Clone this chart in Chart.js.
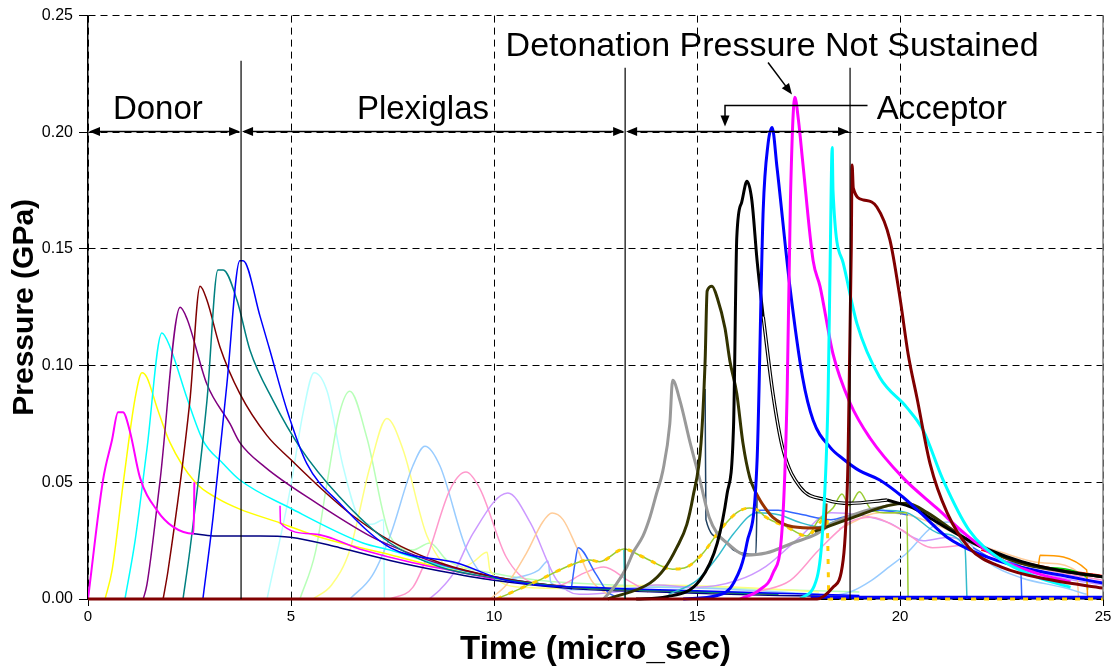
<!DOCTYPE html>
<html>
<head>
<meta charset="utf-8">
<script src="https://cdn.jsdelivr.net/npm/chart.js@4.4.1/dist/chart.umd.min.js"></script>
<style>
  html, body { margin: 0; padding: 0; background: #fff; }
  #wrap { width: 1115px; height: 670px; }
</style>
</head>
<body>
<div id="wrap"><canvas id="chart"></canvas></div>
<script>
// ── Gauge records: [time (micro_sec), pressure (GPa)] ──

// donor gauges
const donor1 = [[0,0],[0.37,0.051],[0.59,0.068],[0.74,0.080],[0.86,0.080],[1.03,0.072],[1.28,0.052],[1.70,0.038],[2.09,0.031],[2.60,0.028],[2.62,0.050]];
const donor1Tail = [[2.60,0.028],[3.08,0.027],[4.24,0.027],[4.98,0.0265],[6.2,0.022],[7.44,0.0165],[8.67,0.012],[10,0.008],[11.9,0.0045],[13.1,0.0035],[15,0.0025],[17,0.0015],[19,0.001]];
const donor2 = [[0.42,0],[0.59,0.012],[0.87,0.050],[1.16,0.086],[1.33,0.097],[1.45,0.095],[1.70,0.082],[2.02,0.067],[2.64,0.050],[3.2,0.043],[3.74,0.0385],[4.73,0.0326],[5.8,0.026],[7.44,0.019],[8.67,0.0135],[10,0.009],[11.9,0.005],[13.1,0.004],[15,0.003],[17,0.002]];
const donor2Step = [[4.73,0.040],[4.74,0.0326],[5.5,0.028],[6.77,0.021],[8,0.0155],[9,0.012],[10,0.0085]];
const donor3 = [[0.91,0],[1.16,0.025],[1.45,0.064],[1.82,0.114],[2.02,0.108],[2.44,0.086],[2.83,0.068],[3.33,0.058],[3.74,0.051],[4.98,0.039],[6.77,0.024],[7.44,0.021],[8.67,0.0145],[10,0.0095],[11.9,0.005],[13.1,0.004],[15,0.003],[17,0.002]];
const donor4 = [[1.36,0],[1.45,0.006],[1.77,0.050],[2.27,0.125],[2.44,0.120],[2.93,0.092],[3.5,0.075],[3.74,0.067],[4.36,0.0565],[5.64,0.041],[7.0,0.0265],[7.44,0.023],[8.67,0.015],[10,0.0095],[11.9,0.005],[13.1,0.004],[15,0.003],[17,0.002]];
const donor5 = [[1.85,0],[1.97,0.012],[2.51,0.085],[2.76,0.134],[2.93,0.128],[3.25,0.108],[3.74,0.088],[4.41,0.070],[4.98,0.060],[5.89,0.045],[6.5,0.036],[7.44,0.025],[8.67,0.0155],[10,0.0095],[11.9,0.005],[13.1,0.004],[15,0.003],[17,0.002]];
const donor6 = [[2.34,0],[2.51,0.021],[2.93,0.085],[3.2,0.141],[3.33,0.141],[3.67,0.128],[3.99,0.1066],[4.56,0.085],[5.22,0.065],[6.2,0.0437],[7.44,0.024],[8.67,0.0137],[10,0.009],[11.9,0.005],[13.1,0.004],[15,0.003],[17,0.002]];
const donor7 = [[2.83,0],[3.08,0.035],[3.42,0.092],[3.74,0.145],[3.82,0.145],[4.24,0.121],[4.48,0.1066],[4.9,0.081],[5.39,0.058],[6.2,0.041],[7.44,0.022],[9.09,0.0154],[10.3,0.008],[12.8,0.0047],[15,0.0035],[17,0.0025],[19,0.0015]];

// plexiglas gauges
const plexi1 = [[4.41,0],[4.98,0.047],[5.3,0.080],[5.57,0.097],[5.89,0.089],[6.28,0.057],[6.7,0.034],[7.0,0.032],[7.28,0.034],[7.3,0]];
const plexi2 = [[5.22,0],[5.6,0.020],[5.89,0.050],[6.2,0.080],[6.45,0.089],[6.87,0.069],[7.44,0.027],[8.0,0.021],[8.42,0.024],[8.84,0.0167],[10,0.011],[11.1,0.008],[13,0.006],[15,0.005],[17,0.004],[19,0.003]];
const plexi3 = [[5.54,0],[6.0,0.006],[6.45,0.021],[6.95,0.057],[7.36,0.0774],[7.76,0.064],[8.35,0.027],[9.09,0.0124],[9.5,0.016],[9.83,0.020],[9.9,0.0124],[10.7,0.005],[12,0.0045],[14,0.006],[16,0.005],[18,0.003]];
const plexi4 = [[6.45,0],[7.0,0.010],[7.44,0.027],[8.0,0.057],[8.3,0.0655],[8.67,0.057],[9.33,0.021],[9.98,0.008],[10.5,0.009],[11.1,0.0124],[11.33,0.0163],[11.4,0.007],[12,0.004],[14,0.005],[16,0.004],[18,0.002]];
const plexi5 = [[7.44,0],[8.0,0.005],[8.35,0.018],[8.92,0.047],[9.31,0.0544],[9.66,0.047],[10.3,0.018],[10.96,0.007],[11.6,0.006],[12.2,0.011],[12.7,0.0137],[13.3,0.008],[13.8,0.003]];
const plexi6 = [[8.4,0],[8.67,0.004],[9.0,0.011],[9.48,0.028],[10.34,0.0454],[10.9,0.0325],[11.55,0.008],[12.1,0.002],[13.0,0.003],[14.0,0.006],[15,0.005],[16.0,0.008],[16.7,0.014],[17.5,0.026],[18.3,0.037],[19.0,0.036],[19.75,0.0325],[20.57,0.025],[21.2,0.0265],[22,0.022],[23,0.014],[24,0.009],[25,0.006]];
const plexi7 = [[9.9,0],[10.3,0.006],[10.8,0.0197],[11.2,0.033],[11.43,0.0368],[11.7,0.034],[12.04,0.022],[12.4,0.008],[12.8,0.002]];
const plexi8 = [[11.9,0.004],[12.0,0.016],[12.07,0.022],[12.5,0.011],[12.8,0.003],[13.0,0.001]];
const plexi9 = [[10.07,0],[11.1,0.008],[11.9,0.0146],[12.36,0.0167],[12.6,0.016],[13.2,0.0214],[13.67,0.018],[14.4,0.0128],[14.75,0.0137],[15.15,0.0197],[15.5,0.028],[15.98,0.037],[16.3,0.039],[16.5,0.038],[16.7,0.035],[17.2,0.031],[17.7,0.027],[18.0,0.034],[18.35,0.039],[18.57,0.045],[18.75,0.040],[19.0,0.046],[19.26,0.039],[19.6,0.037],[20.17,0.037],[20.2,0]];
const plexi9Gold = [[10.07,0],[11.1,0.008],[11.9,0.0146],[12.36,0.0167],[12.6,0.016],[13.2,0.0214],[13.67,0.018],[14.4,0.0128],[14.75,0.0137],[15.15,0.0197],[15.5,0.028],[15.98,0.037],[16.3,0.039],[16.5,0.038],[16.7,0.035],[17.2,0.031],[17.7,0.027],[18.2,0.035],[18.22,0.025],[18.25,0],[25,0]];
const plexi10 = [[13.2,0.021],[13.22,0]];

// acceptor gauges
const accGrey = [[12.7,0],[13.0,0.006],[13.27,0.0137],[13.42,0.0197],[13.67,0.027],[13.84,0.035],[14.0,0.045],[14.16,0.055],[14.33,0.075],[14.4,0.0937],[14.58,0.085],[14.83,0.067],[15.07,0.051],[15.3,0.035],[15.5,0.028],[15.74,0.024],[16.2,0.0188],[16.7,0.0197],[17.36,0.024],[17.96,0.028],[18.35,0.0325],[19,0.037],[19.7,0.040]];
const accOlive = [[12.8,0],[13.84,0.0068],[14.2,0.013],[14.5,0.022],[14.75,0.032],[14.9,0.0437],[15.1,0.067],[15.2,0.102],[15.25,0.132],[15.37,0.134],[15.5,0.129],[15.69,0.116],[15.81,0.102],[15.98,0.088],[16.13,0.067],[16.3,0.052],[16.45,0.0455]];
const accBrown = [[16.45,0.0455],[16.6,0.041],[16.87,0.035],[17.36,0.031],[17.96,0.0304],[18.15,0.031],[18.18,0.041]];
const accOlive2 = [[17.9,0.029],[18.85,0.035],[19.7,0.040],[20.17,0.041],[20.67,0.037],[21.3,0.0295],[21.8,0.024],[22.96,0.0154],[24,0.012],[25,0.0094]];
const accSlate = [[15.2,0.090],[15.22,0.034],[15.55,0.0265],[15.9,0.021],[16.45,0.019],[16.48,0.044]];
const accTeal = [[14.3,0.002],[15.0,0.008],[15.5,0.018],[15.9,0.028],[16.48,0.037],[17.04,0.036],[17.5,0.033],[18,0.031],[18.5,0.034],[19.5,0.038],[20.17,0.037],[21,0.028],[21.6,0.022],[21.65,0]];
const accSteel = [[16.5,0.038],[17.0,0.038],[17.5,0.0365],[18.3,0.034],[18.8,0.036],[19.5,0.038],[20.2,0.036]];
const accPink = [[16.5,0.003],[17.3,0.008],[18.0,0.021],[18.77,0.033],[19.3,0.035],[20.0,0.030],[20.8,0.022],[21.5,0.023],[21.8,0.024],[22.5,0.019],[23.5,0.013],[25,0.008]];
const accLightBlue = [[18.0,0.0005],[18.77,0.003],[19.3,0.008],[19.75,0.014],[20.17,0.0197],[20.8,0.031],[21.2,0.033],[21.6,0.026],[22.2,0.0154],[23,0.009],[24,0.005],[24.6,0.002]];
const accPeach = [[18.5,0.030],[19.5,0.037],[20.2,0.036],[21,0.031],[21.7,0.025],[22.5,0.020],[23.5,0.0155],[24.35,0.012],[24.4,0]];
const accBlueThin = [[21.8,0.022],[22.5,0.016],[22.97,0.014],[23.0,0]];
const accOrange = [[21.8,0.024],[22.5,0.018],[23.4,0.0137],[23.45,0.0188],[24.6,0.0124],[24.62,0]];
const accGreen = [[22.5,0.018],[23.5,0.0135],[24.6,0.0094],[24.62,0.004]];
const accRed = [[22,0.021],[23,0.016],[24,0.0125],[25,0.010]];
const accBlack = [[13.5,0],[14.26,0.001],[15.07,0.008],[15.5,0.024],[15.74,0.045],[15.9,0.074],[15.98,0.155],[16.1,0.170],[16.23,0.179],[16.35,0.171],[16.48,0.145],[16.63,0.121]];
const accBlackOpen = [[16.63,0.121],[16.87,0.088],[17.12,0.064],[17.54,0.048],[18.2,0.0424],[18.77,0.041],[19.68,0.0424]];
const accBlackTail = [[19.68,0.0424],[20.32,0.039],[20.9,0.033],[21.55,0.0265],[22.2,0.021],[23,0.016],[24,0.012],[25,0.0095]];
const accBlue = [[14.66,0],[15.5,0.0015],[15.9,0.0068],[16.23,0.024],[16.48,0.0595],[16.63,0.1665],[16.75,0.195],[16.85,0.202],[16.97,0.185],[17.29,0.1336],[17.6,0.095],[17.86,0.0766],[18.28,0.065],[18.6,0.060],[19.0,0.055],[19.5,0.051],[20.07,0.0437],[20.5,0.037],[21.16,0.0265],[21.9,0.0197],[22.96,0.0137],[24.2,0.0094],[25,0.0068]];
const accBaseline = [[17.8,0.0008],[25,0.0008]];
const accMagenta = [[16.06,0],[16.55,0.004],[16.87,0.011],[17.1,0.031],[17.22,0.088],[17.3,0.170],[17.41,0.215],[17.5,0.205],[17.6,0.188],[17.86,0.145],[18.03,0.134],[18.35,0.105],[18.77,0.084],[19.26,0.069],[20.07,0.052],[20.9,0.039],[21.7,0.0265],[22.5,0.0167],[23.37,0.011],[24.2,0.0073]];
const accCyan = [[17.54,0],[17.96,0.0094],[18.1,0.031],[18.23,0.088],[18.28,0.145],[18.33,0.1935],[18.35,0.175],[18.6,0.144],[18.94,0.118],[19.5,0.095],[20.17,0.082],[20.57,0.0723],[21.06,0.051],[21.7,0.0295],[22.5,0.0167],[23.37,0.0094],[24.2,0.005]];
const accMaroon = [[0,0],[17.96,0],[18.35,0.005],[18.6,0.0167],[18.72,0.0595],[18.8,0.150],[18.82,0.186],[18.85,0.176],[19.1,0.171],[19.43,0.168],[19.75,0.154],[20.0,0.129],[20.2,0.105],[20.42,0.086],[20.74,0.058],[21.16,0.037],[21.7,0.022],[22.5,0.0137],[23.77,0.008],[25,0.0047]];

// region boundaries and labels
const regionEdges = [0, 3.77, 13.23, 18.77];
const regionNames = ["Donor", "Plexiglas", "Acceptor"];
const xTicks = [0, 5, 10, 15, 20, 25];

// ── Styles, back to front ──
const SERIES = [
    { data: plexi1, color: "#b8ffff", width: 1.5 },
    { data: plexi2, color: "#b8ffb8", width: 1.5 },
    { data: plexi3, color: "#ffff80", width: 1.5 },
    { data: plexi4, color: "#99ccff", width: 1.5 },
    { data: plexi5, color: "#ff99cc", width: 1.5 },
    { data: plexi6, color: "#cc99ff", width: 1.5 },
    { data: plexi7, color: "#ffcc99", width: 1.5 },
    { data: plexi8, color: "#3366ff", width: 1.5 },
    { data: plexi10, color: "#33cccc", width: 1.5 },
    { data: accPeach, color: "#ffcc99", width: 1.5 },
    { data: accLightBlue, color: "#99ccff", width: 1.5 },
    { data: accPink, color: "#ff99cc", width: 1.5 },
    { data: donor1Tail, color: "#000080", width: 1.5 },
    { data: donor2, color: "#ffff00", width: 1.5 },
    { data: donor2Step, color: "#ff00ff", width: 1.5 },
    { data: donor3, color: "#00ffff", width: 1.5 },
    { data: donor4, color: "#800080", width: 1.5 },
    { data: donor5, color: "#800000", width: 1.5 },
    { data: donor6, color: "#008080", width: 1.5 },
    { data: donor7, color: "#0000ff", width: 1.5 },
    { data: donor1, color: "#ff00ff", width: 2 },
    { data: accRed, color: "#ff0000", width: 1.5 },
    { data: accGreen, color: "#00cc00", width: 1.5 },
    { data: accOrange, color: "#ff9900", width: 1.5 },
    { data: accBlueThin, color: "#3366ff", width: 1.5 },
    { data: accTeal, color: "#33bbcc", width: 1.5 },
    { data: accSteel, color: "#3366ff", width: 1.5 },
    { data: accSlate, color: "#1f3f5f", width: 1.5 },
    { data: plexi9, color: "#99cc33", width: 1.5 },
    { data: accBaseline, color: "#0000ff", width: 3 },
    { data: plexi9Gold, color: "#ffcc00", width: 3, dash: [5, 8] },
    { data: accGrey, color: "#999999", width: 3 },
    { data: accOlive2, color: "#333300", width: 3 },
    { data: accOlive, color: "#333300", width: 3 },
    { data: accBrown, color: "#993300", width: 3 },
    { data: accBlackOpen, color: "#000000", width: 3.5 },
    { data: accBlackOpen, color: "#ffffff", width: 1.2 },
    { data: accBlack, color: "#000000", width: 3 },
    { data: accBlackTail, color: "#000000", width: 3 },
    { data: accBlue, color: "#0000ff", width: 3 },
    { data: accMagenta, color: "#ff00ff", width: 3 },
    { data: accCyan, color: "#00ffff", width: 3 },
    { data: accMaroon, color: "#800000", width: 3 },
];

const FONT = '"Liberation Sans", Arial, sans-serif';

// ── Region arrows, boundary lines and captions ──

function arrowHead(ctx, x, y, angle) {
    const len = 11, half = 4.5;
    ctx.save();
    ctx.translate(x, y);
    ctx.rotate(angle);
    ctx.beginPath();
    ctx.moveTo(0, 0);
    ctx.lineTo(-len, -half);
    ctx.lineTo(-len, half);
    ctx.closePath();
    ctx.fill();
    ctx.restore();
}

const annotations = {
    id: "annotations",
    afterDatasetsDraw(chart) {
        const { ctx, chartArea: area, scales: { x, y } } = chart;
        ctx.save();

        // right frame edge
        ctx.strokeStyle = "#808080";
        ctx.lineWidth = 1.5;
        ctx.beginPath();
        ctx.moveTo(area.right, area.top);
        ctx.lineTo(area.right, area.bottom);
        ctx.stroke();

        ctx.strokeStyle = "#000";
        ctx.fillStyle = "#000";

        // boundary lines
        const tops = [0.2307, 0.2277, 0.2277];
        ctx.lineWidth = 1.2;
        regionEdges.slice(1).forEach((t, i) => {
            const px = x.getPixelForValue(t);
            ctx.beginPath();
            ctx.moveTo(px, y.getPixelForValue(tops[i]));
            ctx.lineTo(px, area.bottom);
            ctx.stroke();
        });

        // double-headed arrows for each region
        const ay = y.getPixelForValue(0.2003);
        ctx.lineWidth = 1.5;
        for (let i = 0; i < 3; i++) {
            const x1 = x.getPixelForValue(regionEdges[i]) + 1;
            const x2 = x.getPixelForValue(regionEdges[i + 1]) - 1;
            ctx.beginPath();
            ctx.moveTo(x1 + 4, ay);
            ctx.lineTo(x2 - 4, ay);
            ctx.stroke();
            arrowHead(ctx, x1, ay, Math.PI);
            arrowHead(ctx, x2, ay, 0);
        }

        // acceptor bracket pointing down to the arrow
        const bx = x.getPixelForValue(15.69);
        const by = y.getPixelForValue(0.2115);
        const tipY = y.getPixelForValue(0.2025);
        ctx.beginPath();
        ctx.moveTo(x.getPixelForValue(19.2), by);
        ctx.lineTo(bx, by);
        ctx.lineTo(bx, tipY - 4);
        ctx.stroke();
        arrowHead(ctx, bx, tipY, Math.PI / 2);

        // arrow to the unsustained peak
        const sx = x.getPixelForValue(16.75), sy = y.getPixelForValue(0.2299);
        const ex = x.getPixelForValue(17.34), ey = y.getPixelForValue(0.2162);
        const ang = Math.atan2(ey - sy, ex - sx);
        ctx.beginPath();
        ctx.moveTo(sx, sy);
        ctx.lineTo(ex - 6 * Math.cos(ang), ey - 6 * Math.sin(ang));
        ctx.stroke();
        arrowHead(ctx, ex, ey, ang);

        // captions
        ctx.font = "33px " + FONT;
        ctx.textAlign = "center";
        ctx.textBaseline = "alphabetic";
        const capY = y.getPixelForValue(0.2059);
        ctx.fillText(regionNames[0], x.getPixelForValue(1.72), capY);
        ctx.fillText(regionNames[1], x.getPixelForValue(8.25), capY);
        ctx.fillText(regionNames[2], x.getPixelForValue(21.03), capY);
        ctx.font = "34px " + FONT;
        ctx.fillText("Detonation Pressure Not Sustained", x.getPixelForValue(16.85), y.getPixelForValue(0.2329));

        ctx.restore();
    },
};

const ctx = document.getElementById("chart").getContext("2d");

new Chart(ctx, {
    type: "line",
    data: {
        datasets: SERIES.map((s, i) => ({
            data: s.data.map(([t, p]) => ({ x: t, y: p })),
            borderColor: s.color,
            borderWidth: s.width,
            borderDash: s.dash || [],
            pointRadius: 0,
            fill: false,
            cubicInterpolationMode: "monotone",
            clip: { left: 0, top: 0, right: 0, bottom: 3 },
            order: -i,
        })),
    },
    options: {
        responsive: true,
        maintainAspectRatio: false,
        animation: false,
        events: [],
        layout: { padding: { top: 15, right: 12, left: 0, bottom: 0 } },
        plugins: {
            legend: { display: false },
            tooltip: { enabled: false },
        },
        scales: {
            x: {
                type: "linear",
                min: 0,
                max: 25,
                afterBuildTicks: (axis) => { axis.ticks = xTicks.map((v) => ({ value: v })); },
                ticks: { color: "#000", font: { family: FONT, size: 15 }, padding: 2, maxRotation: 0 },
                grid: { color: "#000", lineWidth: 1, tickLength: 7, tickColor: "#000" },
                border: { display: true, color: "#000", width: 1.5, dash: [7, 5] },
                title: {
                    display: true,
                    text: "Time (micro_sec)",
                    color: "#000",
                    font: { family: FONT, size: 33, weight: "bold", lineHeight: 1 },
                    padding: { top: 0, bottom: 4 },
                },
                afterFit: (axis) => { axis.height = 71; },
            },
            y: {
                min: 0,
                max: 0.25,
                ticks: {
                    stepSize: 0.05,
                    color: "#000",
                    font: { family: FONT, size: 16 },
                    padding: 6,
                    callback: (v) => v.toFixed(2),
                },
                grid: { color: "#000", lineWidth: 1, tickLength: 9, tickColor: "#000" },
                border: { display: true, color: "#000", width: 1.5, dash: [7, 5] },
                title: {
                    display: true,
                    text: "Pressure (GPa)",
                    color: "#000",
                    font: { family: FONT, size: 30, weight: "bold", lineHeight: 1 },
                    padding: { top: 10, bottom: 0 },
                },
                afterFit: (axis) => { axis.width = 88; },
            },
        },
    },
    plugins: [annotations],
});
</script>
</body>
</html>
